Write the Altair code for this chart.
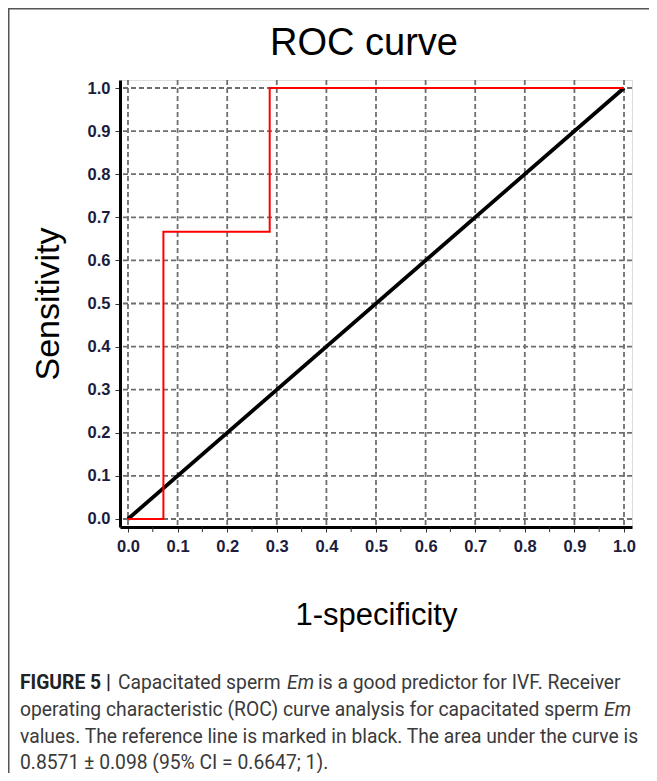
import altair as alt
import pandas as pd

# ---- data ----
roc_fpr = [0.0, 0.0714, 0.0714, 0.2857, 0.2857, 1.0]
roc_tpr = [0.0, 0.0, 0.6667, 0.6667, 1.0, 1.0]
ref_x = [0.0, 1.0]
ref_y = [0.0, 1.0]
grid_vals = [round(i * 0.1, 1) for i in range(11)]
minor_ticks = [round(0.05 + i * 0.1, 2) for i in range(10)]

title_text = "ROC curve"
x_title = "1-specificity"
y_title = "Sensitivity"

caption_bold = "FIGURE 5 |"
caption_segments = [
    # (text, style, line, x-position page px)
    ("Capacitated sperm", "normal", 0, 118),
    ("Em", "italic", 0, 287),
    ("is a good predictor for IVF. Receiver", "normal", 0, 318),
    ("operating characteristic (ROC) curve analysis for capacitated sperm", "normal", 1, 20),
    ("Em", "italic", 1, 604),
    ("values. The reference line is marked in black. The area under the curve is", "normal", 2, 20),
    ("0.8571 \u00b1 0.098 (95% CI = 0.6647; 1).", "normal", 3, 20),
]

# ---- layout constants ----
W, H = 512, 447
PAD_L, PAD_T = 112, 72
PAD_R = 641 - PAD_L - W
PAD_B = 765 - PAD_T - H
X_DOM = [-0.0161, 1.0161]
Y_DOM = [-0.0186, 1.0186]

FONT = "Liberation Sans"
LABEL_COLOR = "#1c1c3c"
GRID_COLOR = "#6e6e6e"

xs = alt.Scale(domain=X_DOM, nice=False, zero=False)
ys = alt.Scale(domain=Y_DOM, nice=False, zero=False)

roc_df = pd.DataFrame({"fpr": roc_fpr, "tpr": roc_tpr, "order": list(range(len(roc_fpr)))})
ref_df = pd.DataFrame({"fpr": ref_x, "tpr": ref_y})
grid_df = pd.DataFrame({"v": grid_vals})
minor_df = pd.DataFrame({"v": minor_ticks})

x_axis = alt.Axis(
    values=grid_vals, format=".1f", grid=False, domainWidth=3, domainColor="black",
    tickSize=5, tickColor="#333", labelFont=FONT, labelFontSize=16.5, labelFontWeight="bold",
    labelColor=LABEL_COLOR, labelPadding=6, title=x_title, titleFont=FONT,
    titleFontSize=31, titleFontWeight="normal", titleColor="black", titlePadding=46,
)
y_axis = alt.Axis(
    values=grid_vals, format=".1f", grid=False, domainWidth=3, domainColor="black",
    tickSize=5, tickColor="#333", labelFont=FONT, labelFontSize=16.5, labelFontWeight="bold",
    labelColor=LABEL_COLOR, labelPadding=5, title=y_title, titleFont=FONT,
    titleFontSize=34, titleFontWeight="normal", titleColor="black", titlePadding=22,
)

vgrid = alt.Chart(grid_df).mark_rule(color=GRID_COLOR, strokeDash=[5, 3], strokeWidth=1.8).encode(
    x=alt.X("v:Q", scale=xs, axis=x_axis)
)
hgrid = alt.Chart(grid_df).mark_rule(color=GRID_COLOR, strokeDash=[5, 3], strokeWidth=1.8).encode(
    y=alt.Y("v:Q", scale=ys, axis=y_axis)
)
minor = alt.Chart(minor_df).mark_rule(color="#333", strokeWidth=1).encode(
    x=alt.X("v:Q", scale=xs), y=alt.value(H), y2=alt.value(H + 5)
)

roc = alt.Chart(roc_df).mark_line(color="#ff0000", strokeWidth=2).encode(
    x=alt.X("fpr:Q", scale=xs), y=alt.Y("tpr:Q", scale=ys), order="order:Q"
)
ref = alt.Chart(ref_df).mark_line(color="black", strokeWidth=3.8).encode(
    x=alt.X("fpr:Q", scale=xs), y=alt.Y("tpr:Q", scale=ys)
)

title_mark = alt.Chart(pd.DataFrame({"t": [title_text]})).mark_text(
    font=FONT, fontSize=38, color="black", align="center", baseline="alphabetic"
).encode(text="t:N", x=alt.value(364 - 120), y=alt.value(55 - 80))

line_base = [689, 716, 743, 769]
cap_layers = []
cap_layers.append(
    alt.Chart(pd.DataFrame({"t": [caption_bold]})).mark_text(
        font="Roboto", fontSize=19.3, fontWeight="bold", color="#222", align="left", baseline="alphabetic"
    ).encode(text="t:N", x=alt.value(20 - 120), y=alt.value(line_base[0] - 80))
)
for txt, style, ln, px in caption_segments:
    cap_layers.append(
        alt.Chart(pd.DataFrame({"t": [txt]})).mark_text(
            font="Roboto", fontSize=19.3, fontStyle=style, color="#3a3a3a", align="left", baseline="alphabetic"
        ).encode(text="t:N", x=alt.value(px - 120), y=alt.value(line_base[ln] - 80))
    )

border_top = alt.Chart(pd.DataFrame({"a": [0]})).mark_rule(color="#555", strokeWidth=1.5).encode(
    x=alt.value(-PAD_L), x2=alt.value(W + PAD_R), y=alt.value(-PAD_T + 0.75)
)
border_left = alt.Chart(pd.DataFrame({"a": [0]})).mark_rule(color="#555", strokeWidth=1.5).encode(
    x=alt.value(-PAD_L + 0.75), y=alt.value(-PAD_T), y2=alt.value(H + PAD_B)
)

chart = alt.layer(
    vgrid, hgrid, minor, ref, roc, title_mark, border_top, border_left, *cap_layers
).properties(
    width=W, height=H,
    padding={"left": PAD_L, "top": PAD_T, "right": PAD_R, "bottom": PAD_B},
    autosize=alt.AutoSizeParams(type="none"),
).configure_view(stroke="black", strokeWidth=1.5).configure(background="white")

chart.save("out.html", embed_options={"renderer": "svg", "actions": False})
